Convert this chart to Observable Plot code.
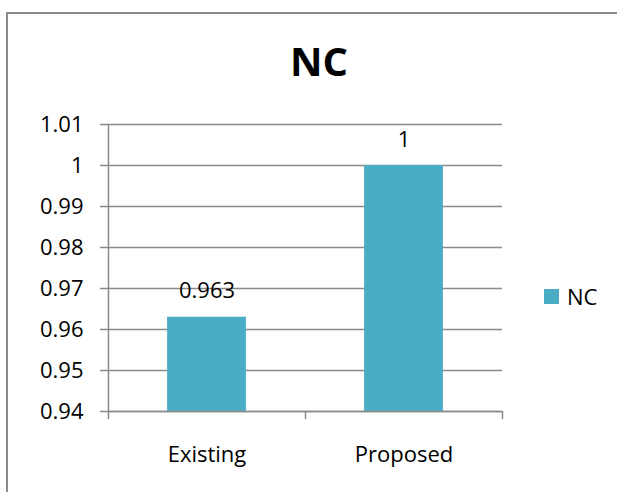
<!DOCTYPE html>
<html>
<head>
<meta charset="utf-8">
<script src="https://cdn.jsdelivr.net/npm/d3@7"></script>
<script src="https://cdn.jsdelivr.net/npm/@observablehq/plot@0.6"></script>
<style>
  html, body { margin: 0; padding: 0; background: #fff; overflow: hidden; }
  #wrap { position: relative; width: 617px; height: 492px; overflow: hidden; font-family: "Open Sans", sans-serif; color: #000; background: #fff; }
  #frameL { position: absolute; left: 6px; top: 12px; width: 2px; height: 480px; background: #8a8a8a; }
  #frameT { position: absolute; left: 6px; top: 12px; width: 611px; height: 2px; background: #8a8a8a; }
  #chart { position: absolute; left: 0; top: 0; }
  #title { position: absolute; left: 0; width: 638px; top: 40.5px; text-align: center; font-size: 40px; line-height: 40px; font-weight: bold; }
  #legend { position: absolute; left: 544px; top: 284.5px; font-size: 22px; line-height: 22px; display: flex; align-items: flex-start; }
  #legend .sw { width: 15px; height: 15px; margin-top: 4.5px; margin-right: 8px; }
</style>
</head>
<body>
<div id="wrap">
  <div id="frameL"></div>
  <div id="frameT"></div>
  <div id="chart"></div>
  <div id="title"></div>
  <div id="legend"></div>
</div>
<script>
const title = "NC";
const seriesName = "NC";
const categories = ["Existing", "Proposed"];
const values = [0.963, 1];
const valueLabels = ["0.963", "1"];
const yTicks = [0.94, 0.95, 0.96, 0.97, 0.98, 0.99, 1, 1.01];
const yTickLabels = ["0.94", "0.95", "0.96", "0.97", "0.98", "0.99", "1", "1.01"];
const barColor = "#4BACC6";

const data = categories.map((c, i) => ({category: c, index: i, value: values[i], label: valueLabels[i]}));
const gridColor = "#8a8a8a";

const plot = Plot.plot({
  width: 617,
  height: 492,
  marginLeft: 108,
  marginRight: 115,
  marginTop: 124,
  marginBottom: 81,
  style: {fontFamily: "'Open Sans', sans-serif", color: "#000", background: "transparent"},
  x: {type: "linear", domain: [0, categories.length]},
  y: {domain: [yTicks[0], yTicks[yTicks.length - 1]]},
  marks: [
    Plot.gridY(yTicks, {stroke: gridColor, strokeOpacity: 1, strokeWidth: 1.5}),
    Plot.axisY(yTicks, {tickSize: 8, tickPadding: 17, stroke: gridColor, strokeWidth: 1.5, fontSize: 22, fill: "#000",
      tickFormat: (d) => yTickLabels[yTicks.indexOf(d)], label: null}),
    Plot.rectY(data, {x1: (d) => d.index + 0.3, x2: (d) => d.index + 0.7, y1: yTicks[0], y2: "value", fill: barColor}),
    Plot.ruleY([yTicks[0]], {stroke: gridColor, strokeWidth: 1.5}),
    Plot.ruleX([0], {stroke: gridColor, strokeWidth: 1.5}),
    Plot.axisX(d3.range(categories.length + 1), {tickSize: 8, stroke: gridColor, strokeWidth: 1.5, tickFormat: () => "", label: null}),
    Plot.text(data, {x: (d) => d.index + 0.5, y: yTicks[0], text: "category", lineAnchor: "bottom", dy: 50, fontSize: 22, fill: "#000"}),
    Plot.text(data, {x: (d) => d.index + 0.5, y: "value", text: "label", lineAnchor: "bottom", dy: -19, fontSize: 22, fill: "#000"})
  ]
});
document.getElementById("chart").appendChild(plot);
document.getElementById("title").textContent = title;
const lg = document.getElementById("legend");
const sw = document.createElement("div");
sw.className = "sw";
sw.style.background = barColor;
const lt = document.createElement("span");
lt.textContent = seriesName;
lg.appendChild(sw);
lg.appendChild(lt);
</script>
</body>
</html>
